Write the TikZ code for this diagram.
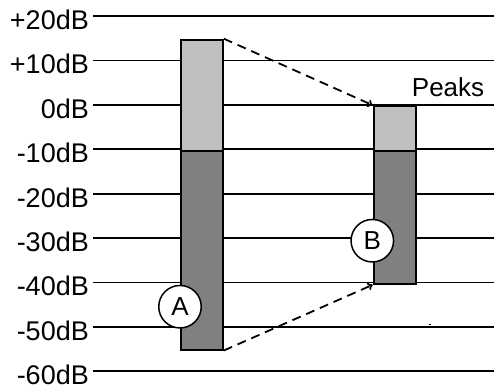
\documentclass[tikz,border=0pt]{standalone}
\usepackage{fontspec}
\setmainfont{Liberation Sans}
\usetikzlibrary{arrows.meta}
\begin{document}
\begin{tikzpicture}[x=1pt,y=-1pt,
  gridline/.style={line width=1.8pt},
  lbl/.style={anchor=base east,inner sep=0pt,text depth=0pt,font=\fontsize{27}{30}\selectfont},
  barlight/.style={draw,line width=1.8pt,fill=black!25,anchor=north west,inner sep=0pt,minimum width=42.3pt},
  bardark/.style={draw,line width=1.8pt,fill=black!50,anchor=north west,inner sep=0pt,minimum width=42.3pt},
  mark circ/.style={circle,draw,line width=1.5pt,fill=white,minimum size=42.5pt,inner sep=0pt,font=\fontsize{26}{28}\selectfont},
  dasharrow/.style={line width=1.8pt,dash pattern=on 9pt off 6pt,-{To[length=5pt,width=8pt]}}]
\useasboundingbox (0,0) rectangle (494,388);
% grid lines and labels
\foreach \v [count=\k from 0] in {+20,+10,0,-10,-20,-30,-40,-50,-60} {
  \coordinate (L\k) at (93,{16+44.4*\k});
  \coordinate (R\k) at (494,{16+44.4*\k});
  \draw[gridline] (L\k) -- (R\k);
  \node[lbl] (lab\k) at (89,{16+44.4*\k+13.4}) {\v dB};
}
% bar A
\node[barlight,minimum height=111pt] (Alight) at (179.7,38.7) {};
\node[bardark,minimum height=199pt] (Adark) at (179.7,149.7) {};
% bar B
\node[barlight,minimum height=44.5pt] (Blight) at (372.7,105.2) {};
\node[bardark,minimum height=133.3pt] (Bdark) at (372.7,149.7) {};
% arrows
\draw[dasharrow] (Alight.north east) -- (Blight.north west);
\draw[dasharrow] (Adark.south east) -- (Bdark.south west);
% labels
\node[anchor=base west,inner sep=0pt,font=\fontsize{26}{28}\selectfont] (peaks) at (411.7,96.7) {Peaks};
\node[mark circ] (cA) at (180,306.7) {A};
\node[mark circ] (cB) at (372.3,240.7) {B};
% tiny mark
\coordinate (d1) at (428.8,324.3);
\coordinate (d2) at (431.3,324.3);
\draw[line width=0.9pt] (d1) -- (d2);
\end{tikzpicture}
\end{document}
